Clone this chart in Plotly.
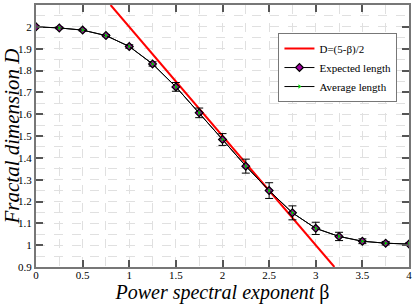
import plotly.graph_objects as go

beta = [0, 0.25, 0.5, 0.75, 1, 1.25, 1.5, 1.75, 2, 2.25, 2.5, 2.75, 3, 3.25, 3.5, 3.75, 4]
D_expected = [2.0, 1.995, 1.985, 1.96, 1.91, 1.83, 1.725, 1.606, 1.484, 1.362, 1.25, 1.148, 1.077, 1.04, 1.018, 1.009, 1.005]
D_average = [2.0, 1.995, 1.985, 1.96, 1.91, 1.83, 1.725, 1.606, 1.484, 1.362, 1.25, 1.148, 1.077, 1.04, 1.018, 1.009, 1.005]
D_err = [0.003, 0.004, 0.004, 0.005, 0.008, 0.01, 0.02, 0.022, 0.027, 0.032, 0.036, 0.032, 0.028, 0.019, 0.011, 0.008, 0.005]

beta_line = [0.8, 3.2]
D_line = [2.1, 0.9]

x_ticks = [0, 0.5, 1, 1.5, 2, 2.5, 3, 3.5, 4]
x_ticktext = ["0", "0.5", "1", "1.5", "2", "2.5", "3", "3.5", "4"]
y_ticks = [0.9, 1.0, 1.1, 1.2, 1.3, 1.4, 1.5, 1.6, 1.7, 1.8, 1.9, 2.0, 2.1]
y_ticktext = ["0.9", "1", "1.1", "1.2", "1.3", "1.4", "1.5", "1.6", "1.7", "1.8", "1.9", "2", "2.1"]

SERIF = "Liberation Serif"

fig = go.Figure()
fig.add_trace(go.Scatter(
    x=beta_line, y=D_line, mode="lines", name="D=(5-β)/2",
    line=dict(color="#ff0000", width=2)))
fig.add_trace(go.Scatter(
    x=beta, y=D_expected, mode="lines+markers", name="Expected length",
    line=dict(color="#000000", width=1),
    marker=dict(symbol="diamond", size=6, color="#a000a0", line=dict(color="#000000", width=1.2)),
    error_y=dict(type="data", array=D_err, color="#000000", thickness=1, width=4)))
fig.add_trace(go.Scatter(
    x=beta, y=D_average, mode="lines+markers", name="Average length",
    line=dict(color="#000000", width=1),
    marker=dict(symbol="triangle-right", size=4, color="#00cc00", line=dict(width=0))))

axis_common = dict(
    showline=True, linecolor="#777777", linewidth=2, mirror="ticks",
    ticks="inside", ticklen=7, tickcolor="#555555", tickwidth=1.5,
    showgrid=True, gridcolor="#e0e0e0", griddash="dash", gridwidth=1,
    zeroline=False, automargin=False,
    tickfont=dict(family=SERIF, size=11, color="#000000"),
)

fig.update_xaxes(
    range=[0, 4], tickvals=x_ticks, ticktext=x_ticktext, ticklabelstandoff=-3,
    minor=dict(dtick=0.25, tick0=0, showgrid=True, gridcolor="#e0e0e0", griddash="dash", ticks=""),
    title=dict(text="<i>Power spectral exponent </i>β", font=dict(family=SERIF, size=20, color="#000000"), standoff=4),
    **axis_common)
fig.update_yaxes(
    range=[0.9, 2.1], tickvals=y_ticks, ticktext=y_ticktext,
    minor=dict(dtick=0.05, tick0=0.9, showgrid=True, gridcolor="#e0e0e0", griddash="dash", ticks=""),
    title=dict(text="<i>Fractal dimension D</i>", font=dict(family=SERIF, size=21, color="#000000"), standoff=4),
    **axis_common)

fig.update_layout(
    width=415, height=304,
    margin=dict(l=36, r=6, t=5, b=37),
    paper_bgcolor="#ffffff", plot_bgcolor="#ffffff",
    legend=dict(x=0.65, y=0.893, xanchor="left", yanchor="top",
                bgcolor="#ffffff", bordercolor="#777777", borderwidth=1,
                font=dict(family=SERIF, size=11, color="#000000"),
                tracegroupgap=0, itemwidth=30),
    showlegend=True,
)

fig.write_html("out.html", config={"displayModeBar": False},
               post_script="document.body.style.margin='0';document.body.style.padding='0';")
